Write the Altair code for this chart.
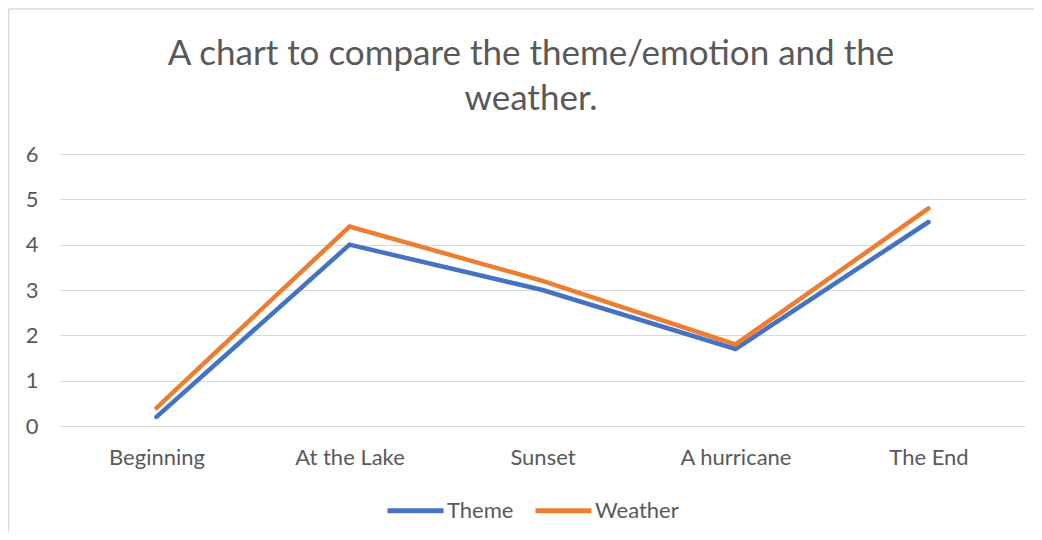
import altair as alt
import pandas as pd

categories = ["Beginning", "At the Lake", "Sunset", "A hurricane", "The End"]
theme = [0.2, 4.0, 3.0, 1.7, 4.5]
weather = [0.4, 4.4, 3.2, 1.8, 4.8]
series_names = ["Theme", "Weather"]
colors = ["#4472C4", "#ED7D31"]
title_lines = ["A chart to compare the theme/emotion and the", "weather."]

rows = []
for c, v in zip(categories, theme):
    rows.append({"cat": c, "value": v, "series": "Theme"})
for c, v in zip(categories, weather):
    rows.append({"cat": c, "value": v, "series": "Weather"})
df = pd.DataFrame(rows)

FONT = "Lato"
GRAY = "#595959"

lines = alt.Chart(df).mark_line(strokeWidth=4.5, strokeCap="round", strokeJoin="miter").encode(
    x=alt.X("cat:N", sort=categories, title=None,
            scale=alt.Scale(type="point", padding=0.5),
            axis=alt.Axis(labelAngle=0, ticks=False, domain=False, grid=False,
                          labelFontSize=22, labelColor=GRAY, labelFont=FONT, labelPadding=21)),
    y=alt.Y("value:Q", title=None,
            scale=alt.Scale(domain=[0, 6], nice=False),
            axis=alt.Axis(values=[0, 1, 2, 3, 4, 5, 6], ticks=False, domain=False,
                          gridColor="#d9d9d9", gridWidth=1.2,
                          labelFontSize=22, labelColor=GRAY, labelFont=FONT, labelPadding=22)),
    color=alt.Color("series:N", scale=alt.Scale(domain=series_names, range=colors),
                    legend=alt.Legend(title=None, orient="none", legendX=325, legendY=326,
                                      direction="horizontal", symbolType="stroke",
                                      symbolSize=3136, symbolStrokeWidth=5,
                                      labelFontSize=22, labelColor=GRAY, labelFont=FONT,
                                      labelOffset=1, columnPadding=11)),
)

one = pd.DataFrame({"k": [0]})
left_border = alt.Chart(one).mark_rule(color="#d9d9d9", strokeWidth=1.5).encode(
    x=alt.value(-51.5), y=alt.value(-145), y2=alt.value(400))
top_border = alt.Chart(one).mark_rule(color="#d9d9d9", strokeWidth=1.5).encode(
    x=alt.value(-51.5), x2=alt.value(1000), y=alt.value(-145))
title = alt.Chart(one).mark_text(
    font=FONT, fontSize=35, color=GRAY, align="center", baseline="alphabetic", lineHeight=45
).encode(x=alt.value(471), y=alt.value(-89), text=alt.value(title_lines))

chart = alt.layer(left_border, top_border, title, lines).properties(
    width=965, height=272,
    autosize=alt.AutoSizeParams(type="none"),
    padding={"left": 52, "top": 146, "right": 9, "bottom": 106},
).configure_view(stroke=None)

chart.save("out.html", embed_options={"renderer": "svg", "actions": False})
